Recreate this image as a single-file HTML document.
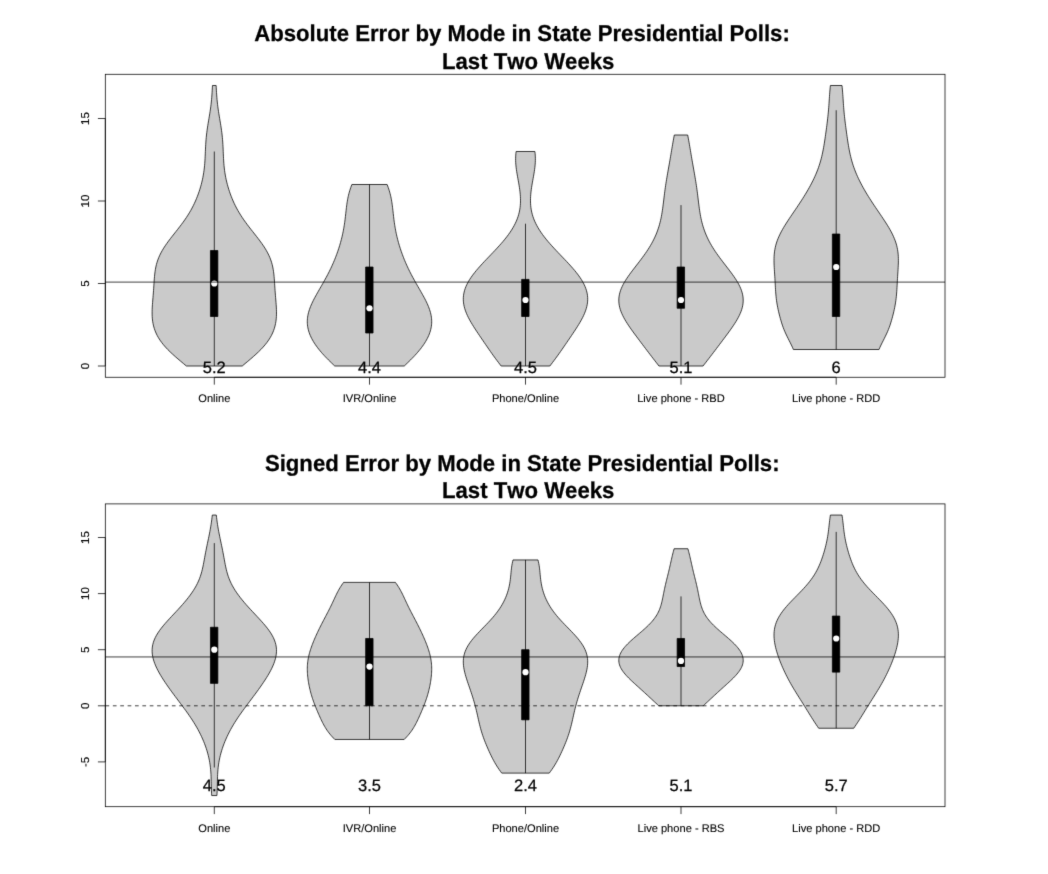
<!DOCTYPE html>
<html lang="en"><head><meta charset="utf-8"><title>Error by Mode in State Presidential Polls</title>
<style>html,body{margin:0;padding:0;background:#fff}body{width:1048px;height:874px;overflow:hidden}svg{display:block}text{font-family:"Liberation Sans",Arial,Helvetica,sans-serif;fill:#000;stroke:#000;stroke-width:0.25px;stroke-linejoin:round;font-kerning:none;text-rendering:geometricPrecision}.a{stroke-width:0.1px}.t{font-weight:bold}</style></head><body>
<svg width="1048" height="874" viewBox="0 0 1048 874">
<defs><filter id="soft" x="0" y="0" width="1048" height="874" filterUnits="userSpaceOnUse" color-interpolation-filters="sRGB"><feConvolveMatrix order="3" kernelMatrix="0.0100 0.0800 0.0100 0.0800 0.6400 0.0800 0.0100 0.0800 0.0100" divisor="1" edgeMode="duplicate" preserveAlpha="true"/></filter></defs>
<g filter="url(#soft)">
<rect width="1048" height="874" fill="#fff"/>
<text class="t" transform="translate(522 40.7) scale(1 1.035)" font-size="22.16" text-anchor="middle">Absolute Error by Mode in State Presidential Polls:</text>
<text class="t" transform="translate(528.2 68.5) scale(1 1.035)" font-size="22.16" text-anchor="middle">Last Two Weeks</text>
<path d="M242.23 366 L245.04 363.64 L247.86 361.29 L250.64 358.93 L253.36 356.57 L255.98 354.21 L258.49 351.86 L260.86 349.5 L263.07 347.14 L265.11 344.79 L266.97 342.43 L268.65 340.07 L270.15 337.71 L271.46 335.36 L272.6 333 L273.57 330.64 L274.38 328.29 L275.04 325.93 L275.56 323.57 L275.96 321.21 L276.23 318.86 L276.41 316.5 L276.49 314.14 L276.49 311.79 L276.43 309.43 L276.33 307.07 L276.18 304.71 L276 302.36 L275.82 300 L275.62 297.64 L275.43 295.29 L275.25 292.93 L275.07 290.57 L274.91 288.21 L274.76 285.86 L274.61 283.5 L274.46 281.14 L274.29 278.79 L274.09 276.43 L273.86 274.07 L273.56 271.71 L273.2 269.36 L272.75 267 L272.21 264.64 L271.55 262.29 L270.77 259.93 L269.86 257.57 L268.82 255.21 L267.65 252.86 L266.36 250.5 L264.94 248.14 L263.41 245.79 L261.78 243.43 L260.06 241.07 L258.29 238.71 L256.46 236.36 L254.6 234 L252.74 231.64 L250.88 229.29 L249.04 226.93 L247.25 224.57 L245.5 222.21 L243.82 219.86 L242.22 217.5 L240.68 215.14 L239.23 212.79 L237.85 210.43 L236.56 208.07 L235.34 205.71 L234.2 203.36 L233.13 201 L232.13 198.64 L231.19 196.29 L230.31 193.93 L229.49 191.57 L228.72 189.21 L228.02 186.86 L227.36 184.5 L226.76 182.14 L226.21 179.79 L225.72 177.43 L225.29 175.07 L224.9 172.71 L224.57 170.36 L224.28 168 L224.04 165.64 L223.84 163.29 L223.68 160.93 L223.54 158.57 L223.43 156.21 L223.32 153.86 L223.23 151.5 L223.13 149.14 L223.02 146.79 L222.89 144.43 L222.74 142.07 L222.56 139.71 L222.35 137.36 L222.11 135 L221.83 132.64 L221.52 130.29 L221.18 127.93 L220.82 125.57 L220.44 123.21 L220.04 120.86 L219.65 118.5 L219.25 116.14 L218.87 113.79 L218.5 111.43 L218.16 109.07 L217.84 106.71 L217.55 104.36 L217.29 102 L217.06 99.64 L216.86 97.29 L216.69 94.93 L216.53 92.57 L216.39 90.21 L216.26 87.86 L216.13 85.5 L212.47 85.5 L212.34 87.86 L212.21 90.21 L212.07 92.57 L211.91 94.93 L211.74 97.29 L211.54 99.64 L211.31 102 L211.05 104.36 L210.76 106.71 L210.44 109.07 L210.1 111.43 L209.73 113.79 L209.35 116.14 L208.95 118.5 L208.56 120.86 L208.16 123.21 L207.78 125.57 L207.42 127.93 L207.08 130.29 L206.77 132.64 L206.49 135 L206.25 137.36 L206.04 139.71 L205.86 142.07 L205.71 144.43 L205.58 146.79 L205.47 149.14 L205.37 151.5 L205.28 153.86 L205.17 156.21 L205.06 158.57 L204.92 160.93 L204.76 163.29 L204.56 165.64 L204.32 168 L204.03 170.36 L203.7 172.71 L203.31 175.07 L202.88 177.43 L202.39 179.79 L201.84 182.14 L201.24 184.5 L200.58 186.86 L199.88 189.21 L199.11 191.57 L198.29 193.93 L197.41 196.29 L196.47 198.64 L195.47 201 L194.4 203.36 L193.26 205.71 L192.04 208.07 L190.75 210.43 L189.37 212.79 L187.92 215.14 L186.38 217.5 L184.78 219.86 L183.1 222.21 L181.35 224.57 L179.56 226.93 L177.72 229.29 L175.86 231.64 L174 234 L172.14 236.36 L170.31 238.71 L168.54 241.07 L166.82 243.43 L165.19 245.79 L163.66 248.14 L162.24 250.5 L160.95 252.86 L159.78 255.21 L158.74 257.57 L157.83 259.93 L157.05 262.29 L156.39 264.64 L155.85 267 L155.4 269.36 L155.04 271.71 L154.74 274.07 L154.51 276.43 L154.31 278.79 L154.14 281.14 L153.99 283.5 L153.84 285.86 L153.69 288.21 L153.53 290.57 L153.35 292.93 L153.17 295.29 L152.98 297.64 L152.78 300 L152.6 302.36 L152.42 304.71 L152.27 307.07 L152.17 309.43 L152.11 311.79 L152.11 314.14 L152.19 316.5 L152.37 318.86 L152.64 321.21 L153.04 323.57 L153.56 325.93 L154.22 328.29 L155.03 330.64 L156 333 L157.14 335.36 L158.45 337.71 L159.95 340.07 L161.63 342.43 L163.49 344.79 L165.53 347.14 L167.74 349.5 L170.11 351.86 L172.62 354.21 L175.24 356.57 L177.96 358.93 L180.74 361.29 L183.56 363.64 L186.37 366Z" fill="#cacaca" stroke="#000" stroke-width="0.75" stroke-linejoin="round"/>
<line x1="214.3" x2="214.3" y1="151.5" y2="366" stroke="#000" stroke-width="0.75"/>
<rect x="210.45" y="250.5" width="7.4" height="66" fill="#000" stroke="#000" stroke-width="0.75" stroke-linejoin="round"/>
<circle cx="214.3" cy="283.5" r="3.1" fill="#fff"/>
<path d="M404.24 366 L405.86 364.47 L407.45 362.95 L409.02 361.42 L410.57 359.9 L412.07 358.37 L413.55 356.85 L414.98 355.32 L416.36 353.8 L417.7 352.27 L418.99 350.75 L420.23 349.22 L421.41 347.7 L422.54 346.17 L423.61 344.65 L424.62 343.12 L425.57 341.6 L426.45 340.07 L427.27 338.55 L428.02 337.02 L428.71 335.5 L429.33 333.97 L429.88 332.45 L430.36 330.92 L430.76 329.39 L431.1 327.87 L431.36 326.34 L431.54 324.82 L431.66 323.29 L431.7 321.77 L431.67 320.24 L431.57 318.72 L431.4 317.19 L431.16 315.67 L430.85 314.14 L430.49 312.62 L430.06 311.09 L429.57 309.57 L429.03 308.04 L428.44 306.52 L427.81 304.99 L427.13 303.47 L426.41 301.94 L425.66 300.42 L424.88 298.89 L424.07 297.37 L423.24 295.84 L422.39 294.32 L421.53 292.79 L420.66 291.26 L419.79 289.74 L418.91 288.21 L418.02 286.69 L417.15 285.16 L416.27 283.64 L415.41 282.11 L414.55 280.59 L413.71 279.06 L412.88 277.54 L412.06 276.01 L411.26 274.49 L410.47 272.96 L409.7 271.44 L408.95 269.91 L408.21 268.39 L407.5 266.86 L406.8 265.34 L406.12 263.81 L405.46 262.29 L404.81 260.76 L404.18 259.24 L403.58 257.71 L402.99 256.18 L402.41 254.66 L401.86 253.13 L401.32 251.61 L400.8 250.08 L400.29 248.56 L399.81 247.03 L399.34 245.51 L398.89 243.98 L398.45 242.46 L398.04 240.93 L397.63 239.41 L397.25 237.88 L396.89 236.36 L396.54 234.83 L396.21 233.31 L395.89 231.78 L395.6 230.26 L395.32 228.73 L395.05 227.21 L394.8 225.68 L394.57 224.16 L394.35 222.63 L394.14 221.11 L393.94 219.58 L393.76 218.05 L393.58 216.53 L393.41 215 L393.24 213.48 L393.07 211.95 L392.9 210.43 L392.73 208.9 L392.55 207.38 L392.36 205.85 L392.16 204.33 L391.94 202.8 L391.7 201.28 L391.44 199.75 L391.15 198.23 L390.83 196.7 L390.49 195.18 L390.11 193.65 L389.7 192.13 L389.25 190.6 L388.77 189.08 L388.25 187.55 L387.7 186.03 L387.12 184.5 L351.88 184.5 L351.3 186.03 L350.75 187.55 L350.23 189.08 L349.75 190.6 L349.3 192.13 L348.89 193.65 L348.51 195.18 L348.17 196.7 L347.85 198.23 L347.56 199.75 L347.3 201.28 L347.06 202.8 L346.84 204.33 L346.64 205.85 L346.45 207.38 L346.27 208.9 L346.1 210.43 L345.93 211.95 L345.76 213.48 L345.59 215 L345.42 216.53 L345.24 218.05 L345.06 219.58 L344.86 221.11 L344.65 222.63 L344.43 224.16 L344.2 225.68 L343.95 227.21 L343.68 228.73 L343.4 230.26 L343.11 231.78 L342.79 233.31 L342.46 234.83 L342.11 236.36 L341.75 237.88 L341.37 239.41 L340.96 240.93 L340.55 242.46 L340.11 243.98 L339.66 245.51 L339.19 247.03 L338.71 248.56 L338.2 250.08 L337.68 251.61 L337.14 253.13 L336.59 254.66 L336.01 256.18 L335.42 257.71 L334.82 259.24 L334.19 260.76 L333.54 262.29 L332.88 263.81 L332.2 265.34 L331.5 266.86 L330.79 268.39 L330.05 269.91 L329.3 271.44 L328.53 272.96 L327.74 274.49 L326.94 276.01 L326.12 277.54 L325.29 279.06 L324.45 280.59 L323.59 282.11 L322.73 283.64 L321.85 285.16 L320.98 286.69 L320.09 288.21 L319.21 289.74 L318.34 291.26 L317.47 292.79 L316.61 294.32 L315.76 295.84 L314.93 297.37 L314.12 298.89 L313.34 300.42 L312.59 301.94 L311.87 303.47 L311.19 304.99 L310.56 306.52 L309.97 308.04 L309.43 309.57 L308.94 311.09 L308.51 312.62 L308.15 314.14 L307.84 315.67 L307.6 317.19 L307.43 318.72 L307.33 320.24 L307.3 321.77 L307.34 323.29 L307.46 324.82 L307.64 326.34 L307.9 327.87 L308.24 329.39 L308.64 330.92 L309.12 332.45 L309.67 333.97 L310.29 335.5 L310.98 337.02 L311.73 338.55 L312.55 340.07 L313.43 341.6 L314.38 343.12 L315.39 344.65 L316.46 346.17 L317.59 347.7 L318.77 349.22 L320.01 350.75 L321.3 352.27 L322.64 353.8 L324.02 355.32 L325.45 356.85 L326.93 358.37 L328.43 359.9 L329.98 361.42 L331.55 362.95 L333.14 364.47 L334.76 366Z" fill="#cacaca" stroke="#000" stroke-width="0.75" stroke-linejoin="round"/>
<line x1="369.5" x2="369.5" y1="184.5" y2="366" stroke="#000" stroke-width="0.75"/>
<rect x="365.65" y="267" width="7.4" height="66" fill="#000" stroke="#000" stroke-width="0.75" stroke-linejoin="round"/>
<circle cx="369.5" cy="308.25" r="3.1" fill="#fff"/>
<path d="M549.85 366 L551.24 364.2 L552.62 362.39 L553.98 360.59 L555.32 358.79 L556.64 356.99 L557.94 355.18 L559.23 353.38 L560.5 351.58 L561.76 349.78 L563.01 347.97 L564.25 346.17 L565.49 344.37 L566.72 342.57 L567.95 340.76 L569.18 338.96 L570.41 337.16 L571.63 335.36 L572.84 333.55 L574.05 331.75 L575.24 329.95 L576.41 328.15 L577.56 326.34 L578.67 324.54 L579.75 322.74 L580.79 320.94 L581.78 319.13 L582.72 317.33 L583.59 315.53 L584.39 313.73 L585.12 311.92 L585.77 310.12 L586.33 308.32 L586.8 306.52 L587.18 304.71 L587.46 302.91 L587.63 301.11 L587.7 299.31 L587.66 297.5 L587.51 295.7 L587.25 293.9 L586.88 292.1 L586.4 290.29 L585.81 288.49 L585.12 286.69 L584.31 284.89 L583.41 283.08 L582.41 281.28 L581.32 279.48 L580.14 277.68 L578.87 275.87 L577.53 274.07 L576.12 272.27 L574.65 270.47 L573.12 268.66 L571.54 266.86 L569.92 265.06 L568.26 263.26 L566.58 261.45 L564.87 259.65 L563.15 257.85 L561.42 256.05 L559.69 254.24 L557.97 252.44 L556.27 250.64 L554.58 248.84 L552.92 247.03 L551.29 245.23 L549.69 243.43 L548.14 241.63 L546.63 239.82 L545.18 238.02 L543.78 236.22 L542.44 234.42 L541.16 232.61 L539.95 230.81 L538.81 229.01 L537.74 227.21 L536.74 225.4 L535.82 223.6 L534.97 221.8 L534.2 220 L533.51 218.19 L532.89 216.39 L532.35 214.59 L531.88 212.79 L531.48 210.98 L531.16 209.18 L530.9 207.38 L530.71 205.58 L530.58 203.77 L530.5 201.97 L530.49 200.17 L530.52 198.37 L530.6 196.56 L530.72 194.76 L530.89 192.96 L531.09 191.16 L531.32 189.35 L531.57 187.55 L531.85 185.75 L532.15 183.95 L532.46 182.14 L532.79 180.34 L533.11 178.54 L533.43 176.74 L533.75 174.93 L534.05 173.13 L534.34 171.33 L534.6 169.53 L534.83 167.72 L535.03 165.92 L535.19 164.12 L535.31 162.32 L535.37 160.51 L535.38 158.71 L535.34 156.91 L535.25 155.11 L535.1 153.3 L534.89 151.5 L516.11 151.5 L515.9 153.3 L515.75 155.11 L515.66 156.91 L515.62 158.71 L515.63 160.51 L515.69 162.32 L515.81 164.12 L515.97 165.92 L516.17 167.72 L516.4 169.53 L516.66 171.33 L516.95 173.13 L517.25 174.93 L517.57 176.74 L517.89 178.54 L518.21 180.34 L518.54 182.14 L518.85 183.95 L519.15 185.75 L519.43 187.55 L519.68 189.35 L519.91 191.16 L520.11 192.96 L520.28 194.76 L520.4 196.56 L520.48 198.37 L520.51 200.17 L520.5 201.97 L520.42 203.77 L520.29 205.58 L520.1 207.38 L519.84 209.18 L519.52 210.98 L519.12 212.79 L518.65 214.59 L518.11 216.39 L517.49 218.19 L516.8 220 L516.03 221.8 L515.18 223.6 L514.26 225.4 L513.26 227.21 L512.19 229.01 L511.05 230.81 L509.84 232.61 L508.56 234.42 L507.22 236.22 L505.82 238.02 L504.37 239.82 L502.86 241.63 L501.31 243.43 L499.71 245.23 L498.08 247.03 L496.42 248.84 L494.73 250.64 L493.03 252.44 L491.31 254.24 L489.58 256.05 L487.85 257.85 L486.13 259.65 L484.42 261.45 L482.74 263.26 L481.08 265.06 L479.46 266.86 L477.88 268.66 L476.35 270.47 L474.88 272.27 L473.47 274.07 L472.13 275.87 L470.86 277.68 L469.68 279.48 L468.59 281.28 L467.59 283.08 L466.69 284.89 L465.88 286.69 L465.19 288.49 L464.6 290.29 L464.12 292.1 L463.75 293.9 L463.49 295.7 L463.34 297.5 L463.3 299.31 L463.37 301.11 L463.54 302.91 L463.82 304.71 L464.2 306.52 L464.67 308.32 L465.23 310.12 L465.88 311.92 L466.61 313.73 L467.41 315.53 L468.28 317.33 L469.22 319.13 L470.21 320.94 L471.25 322.74 L472.33 324.54 L473.44 326.34 L474.59 328.15 L475.76 329.95 L476.95 331.75 L478.16 333.55 L479.37 335.36 L480.59 337.16 L481.82 338.96 L483.05 340.76 L484.28 342.57 L485.51 344.37 L486.75 346.17 L487.99 347.97 L489.24 349.78 L490.5 351.58 L491.77 353.38 L493.06 355.18 L494.36 356.99 L495.68 358.79 L497.02 360.59 L498.38 362.39 L499.76 364.2 L501.15 366Z" fill="#cacaca" stroke="#000" stroke-width="0.75" stroke-linejoin="round"/>
<line x1="525.5" x2="525.5" y1="223.69" y2="366" stroke="#000" stroke-width="0.75"/>
<rect x="521.65" y="279.38" width="7.4" height="37.12" fill="#000" stroke="#000" stroke-width="0.75" stroke-linejoin="round"/>
<circle cx="525.5" cy="300" r="3.1" fill="#fff"/>
<path d="M703.04 366 L704.54 364.06 L706.05 362.12 L707.55 360.18 L709.05 358.24 L710.55 356.29 L712.04 354.35 L713.52 352.41 L715 350.47 L716.47 348.53 L717.94 346.59 L719.4 344.65 L720.87 342.71 L722.33 340.76 L723.78 338.82 L725.23 336.88 L726.68 334.94 L728.11 333 L729.52 331.06 L730.91 329.12 L732.26 327.18 L733.58 325.24 L734.85 323.29 L736.07 321.35 L737.22 319.41 L738.29 317.47 L739.28 315.53 L740.17 313.59 L740.97 311.65 L741.65 309.71 L742.22 307.76 L742.66 305.82 L742.97 303.88 L743.15 301.94 L743.2 300 L743.11 298.06 L742.88 296.12 L742.52 294.18 L742.02 292.24 L741.4 290.29 L740.65 288.35 L739.79 286.41 L738.82 284.47 L737.75 282.53 L736.59 280.59 L735.35 278.65 L734.04 276.71 L732.67 274.76 L731.26 272.82 L729.8 270.88 L728.32 268.94 L726.82 267 L725.32 265.06 L723.82 263.12 L722.33 261.18 L720.86 259.24 L719.41 257.29 L718 255.35 L716.62 253.41 L715.29 251.47 L714.01 249.53 L712.78 247.59 L711.6 245.65 L710.48 243.71 L709.42 241.76 L708.41 239.82 L707.47 237.88 L706.58 235.94 L705.75 234 L704.98 232.06 L704.27 230.12 L703.61 228.18 L703 226.24 L702.44 224.29 L701.93 222.35 L701.46 220.41 L701.03 218.47 L700.64 216.53 L700.29 214.59 L699.96 212.65 L699.66 210.71 L699.37 208.76 L699.11 206.82 L698.86 204.88 L698.62 202.94 L698.38 201 L698.15 199.06 L697.92 197.12 L697.68 195.18 L697.44 193.24 L697.19 191.29 L696.93 189.35 L696.66 187.41 L696.38 185.47 L696.08 183.53 L695.78 181.59 L695.46 179.65 L695.14 177.71 L694.81 175.76 L694.47 173.82 L694.13 171.88 L693.79 169.94 L693.44 168 L693.1 166.06 L692.75 164.12 L692.41 162.18 L692.07 160.24 L691.74 158.29 L691.41 156.35 L691.08 154.41 L690.76 152.47 L690.44 150.53 L690.11 148.59 L689.78 146.65 L689.45 144.71 L689.12 142.76 L688.77 140.82 L688.42 138.88 L688.06 136.94 L687.69 135 L674.31 135 L673.94 136.94 L673.58 138.88 L673.23 140.82 L672.88 142.76 L672.55 144.71 L672.22 146.65 L671.89 148.59 L671.56 150.53 L671.24 152.47 L670.92 154.41 L670.59 156.35 L670.26 158.29 L669.93 160.24 L669.59 162.18 L669.25 164.12 L668.9 166.06 L668.56 168 L668.21 169.94 L667.87 171.88 L667.53 173.82 L667.19 175.76 L666.86 177.71 L666.54 179.65 L666.22 181.59 L665.92 183.53 L665.62 185.47 L665.34 187.41 L665.07 189.35 L664.81 191.29 L664.56 193.24 L664.32 195.18 L664.08 197.12 L663.85 199.06 L663.62 201 L663.38 202.94 L663.14 204.88 L662.89 206.82 L662.63 208.76 L662.34 210.71 L662.04 212.65 L661.71 214.59 L661.36 216.53 L660.97 218.47 L660.54 220.41 L660.07 222.35 L659.56 224.29 L659 226.24 L658.39 228.18 L657.73 230.12 L657.02 232.06 L656.25 234 L655.42 235.94 L654.53 237.88 L653.59 239.82 L652.58 241.76 L651.52 243.71 L650.4 245.65 L649.22 247.59 L647.99 249.53 L646.71 251.47 L645.38 253.41 L644 255.35 L642.59 257.29 L641.14 259.24 L639.67 261.18 L638.18 263.12 L636.68 265.06 L635.18 267 L633.68 268.94 L632.2 270.88 L630.74 272.82 L629.33 274.76 L627.96 276.71 L626.65 278.65 L625.41 280.59 L624.25 282.53 L623.18 284.47 L622.21 286.41 L621.35 288.35 L620.6 290.29 L619.98 292.24 L619.48 294.18 L619.12 296.12 L618.89 298.06 L618.8 300 L618.85 301.94 L619.03 303.88 L619.34 305.82 L619.78 307.76 L620.35 309.71 L621.03 311.65 L621.83 313.59 L622.72 315.53 L623.71 317.47 L624.78 319.41 L625.93 321.35 L627.15 323.29 L628.42 325.24 L629.74 327.18 L631.09 329.12 L632.48 331.06 L633.89 333 L635.32 334.94 L636.77 336.88 L638.22 338.82 L639.67 340.76 L641.13 342.71 L642.6 344.65 L644.06 346.59 L645.53 348.53 L647 350.47 L648.48 352.41 L649.96 354.35 L651.45 356.29 L652.95 358.24 L654.45 360.18 L655.95 362.12 L657.46 364.06 L658.96 366Z" fill="#cacaca" stroke="#000" stroke-width="0.75" stroke-linejoin="round"/>
<line x1="681" x2="681" y1="205.12" y2="366" stroke="#000" stroke-width="0.75"/>
<rect x="677.15" y="267" width="7.4" height="41.25" fill="#000" stroke="#000" stroke-width="0.75" stroke-linejoin="round"/>
<circle cx="681" cy="300" r="3.1" fill="#fff"/>
<path d="M879.01 349.5 L879.96 347.28 L881.01 345.06 L882.1 342.84 L883.22 340.63 L884.33 338.41 L885.42 336.19 L886.48 333.97 L887.49 331.75 L888.42 329.53 L889.27 327.32 L890.05 325.1 L890.76 322.88 L891.43 320.66 L892.07 318.44 L892.67 316.22 L893.23 314 L893.77 311.79 L894.26 309.57 L894.72 307.35 L895.14 305.13 L895.51 302.91 L895.84 300.69 L896.12 298.47 L896.36 296.26 L896.56 294.04 L896.73 291.82 L896.88 289.6 L897.01 287.38 L897.13 285.16 L897.24 282.95 L897.37 280.73 L897.49 278.51 L897.63 276.29 L897.76 274.07 L897.91 271.85 L898.05 269.63 L898.17 267.42 L898.28 265.2 L898.36 262.98 L898.4 260.76 L898.38 258.54 L898.3 256.32 L898.15 254.11 L897.91 251.89 L897.57 249.67 L897.14 247.45 L896.61 245.23 L895.97 243.01 L895.22 240.79 L894.37 238.58 L893.42 236.36 L892.38 234.14 L891.25 231.92 L890.04 229.7 L888.76 227.48 L887.41 225.26 L886.02 223.05 L884.58 220.83 L883.12 218.61 L881.63 216.39 L880.12 214.17 L878.61 211.95 L877.11 209.74 L875.6 207.52 L874.12 205.3 L872.64 203.08 L871.19 200.86 L869.77 198.64 L868.37 196.42 L867.01 194.21 L865.67 191.99 L864.38 189.77 L863.12 187.55 L861.91 185.33 L860.74 183.11 L859.61 180.89 L858.53 178.68 L857.51 176.46 L856.53 174.24 L855.61 172.02 L854.74 169.8 L853.93 167.58 L853.17 165.37 L852.47 163.15 L851.81 160.93 L851.21 158.71 L850.66 156.49 L850.14 154.27 L849.67 152.05 L849.23 149.84 L848.82 147.62 L848.44 145.4 L848.07 143.18 L847.73 140.96 L847.4 138.74 L847.08 136.53 L846.76 134.31 L846.46 132.09 L846.15 129.87 L845.86 127.65 L845.57 125.43 L845.29 123.21 L845.01 121 L844.76 118.78 L844.51 116.56 L844.28 114.34 L844.07 112.12 L843.87 109.9 L843.69 107.68 L843.53 105.47 L843.37 103.25 L843.23 101.03 L843.08 98.81 L842.94 96.59 L842.78 94.37 L842.62 92.16 L842.43 89.94 L842.23 87.72 L842 85.5 L830.4 85.5 L830.17 87.72 L829.97 89.94 L829.78 92.16 L829.62 94.37 L829.46 96.59 L829.32 98.81 L829.17 101.03 L829.03 103.25 L828.87 105.47 L828.71 107.68 L828.53 109.9 L828.33 112.12 L828.12 114.34 L827.89 116.56 L827.64 118.78 L827.39 121 L827.11 123.21 L826.83 125.43 L826.54 127.65 L826.25 129.87 L825.94 132.09 L825.64 134.31 L825.32 136.53 L825 138.74 L824.67 140.96 L824.33 143.18 L823.96 145.4 L823.58 147.62 L823.17 149.84 L822.73 152.05 L822.26 154.27 L821.74 156.49 L821.19 158.71 L820.59 160.93 L819.93 163.15 L819.23 165.37 L818.47 167.58 L817.66 169.8 L816.79 172.02 L815.87 174.24 L814.89 176.46 L813.87 178.68 L812.79 180.89 L811.66 183.11 L810.49 185.33 L809.28 187.55 L808.02 189.77 L806.73 191.99 L805.39 194.21 L804.03 196.42 L802.63 198.64 L801.21 200.86 L799.76 203.08 L798.28 205.3 L796.8 207.52 L795.29 209.74 L793.79 211.95 L792.28 214.17 L790.77 216.39 L789.28 218.61 L787.82 220.83 L786.38 223.05 L784.99 225.26 L783.64 227.48 L782.36 229.7 L781.15 231.92 L780.02 234.14 L778.98 236.36 L778.03 238.58 L777.18 240.79 L776.43 243.01 L775.79 245.23 L775.26 247.45 L774.83 249.67 L774.49 251.89 L774.25 254.11 L774.1 256.32 L774.02 258.54 L774 260.76 L774.04 262.98 L774.12 265.2 L774.23 267.42 L774.35 269.63 L774.49 271.85 L774.64 274.07 L774.77 276.29 L774.91 278.51 L775.03 280.73 L775.16 282.95 L775.27 285.16 L775.39 287.38 L775.52 289.6 L775.67 291.82 L775.84 294.04 L776.04 296.26 L776.28 298.47 L776.56 300.69 L776.89 302.91 L777.26 305.13 L777.68 307.35 L778.14 309.57 L778.63 311.79 L779.17 314 L779.73 316.22 L780.33 318.44 L780.97 320.66 L781.64 322.88 L782.35 325.1 L783.13 327.32 L783.98 329.53 L784.91 331.75 L785.92 333.97 L786.98 336.19 L788.07 338.41 L789.18 340.63 L790.3 342.84 L791.39 345.06 L792.44 347.28 L793.39 349.5Z" fill="#cacaca" stroke="#000" stroke-width="0.75" stroke-linejoin="round"/>
<line x1="836.2" x2="836.2" y1="110.25" y2="349.5" stroke="#000" stroke-width="0.75"/>
<rect x="832.35" y="234" width="7.4" height="82.5" fill="#000" stroke="#000" stroke-width="0.75" stroke-linejoin="round"/>
<circle cx="836.2" cy="267" r="3.1" fill="#fff"/>
<rect x="105.3" y="74.28" width="839.7" height="302.97" fill="none" stroke="#000" stroke-width="0.75"/>
<path d="M214.3 377.25 H836.2" stroke="#000" stroke-width="0.75" fill="none"/>
<line x1="214.3" x2="214.3" y1="377.25" y2="384.65" stroke="#000" stroke-width="0.75"/>
<text class="a" x="214.3" y="402.25" font-size="11.1" text-anchor="middle">Online</text>
<line x1="369.5" x2="369.5" y1="377.25" y2="384.65" stroke="#000" stroke-width="0.75"/>
<text class="a" x="369.5" y="402.25" font-size="11.1" text-anchor="middle">IVR/Online</text>
<line x1="525.5" x2="525.5" y1="377.25" y2="384.65" stroke="#000" stroke-width="0.75"/>
<text class="a" x="525.5" y="402.25" font-size="11.1" text-anchor="middle">Phone/Online</text>
<line x1="681" x2="681" y1="377.25" y2="384.65" stroke="#000" stroke-width="0.75"/>
<text class="a" x="681" y="402.25" font-size="11.1" text-anchor="middle">Live phone - RBD</text>
<line x1="836.2" x2="836.2" y1="377.25" y2="384.65" stroke="#000" stroke-width="0.75"/>
<text class="a" x="836.2" y="402.25" font-size="11.1" text-anchor="middle">Live phone - RDD</text>
<line x1="105.3" x2="105.3" y1="366" y2="118.5" stroke="#000" stroke-width="0.75"/>
<line x1="97.9" x2="105.3" y1="366" y2="366" stroke="#000" stroke-width="0.75"/>
<text class="a" transform="translate(89.3 366) rotate(-90)" font-size="11.5" text-anchor="middle">0</text>
<line x1="97.9" x2="105.3" y1="283.5" y2="283.5" stroke="#000" stroke-width="0.75"/>
<text class="a" transform="translate(89.3 283.5) rotate(-90)" font-size="11.5" text-anchor="middle">5</text>
<line x1="97.9" x2="105.3" y1="201" y2="201" stroke="#000" stroke-width="0.75"/>
<text class="a" transform="translate(89.3 201) rotate(-90)" font-size="11.5" text-anchor="middle">10</text>
<line x1="97.9" x2="105.3" y1="118.5" y2="118.5" stroke="#000" stroke-width="0.75"/>
<text class="a" transform="translate(89.3 118.5) rotate(-90)" font-size="11.5" text-anchor="middle">15</text>
<line x1="105.3" x2="945" y1="282.1" y2="282.1" stroke="#000" stroke-width="0.75"/>
<text x="214.3" y="372.8" font-size="16.5" text-anchor="middle">5.2</text>
<text x="369.5" y="372.8" font-size="16.5" text-anchor="middle">4.4</text>
<text x="525.5" y="372.8" font-size="16.5" text-anchor="middle">4.5</text>
<text x="681" y="372.8" font-size="16.5" text-anchor="middle">5.1</text>
<text x="836.2" y="372.8" font-size="16.5" text-anchor="middle">6</text>
<text class="t" transform="translate(522.2 470.5) scale(1 1.035)" font-size="22.16" text-anchor="middle">Signed Error by Mode in State Presidential Polls:</text>
<text class="t" transform="translate(528.2 498.2) scale(1 1.035)" font-size="22.16" text-anchor="middle">Last Two Weeks</text>
<path d="M216.91 795.56 L217.05 793.2 L217.16 790.85 L217.25 788.49 L217.31 786.13 L217.36 783.77 L217.41 781.42 L217.46 779.06 L217.53 776.7 L217.63 774.35 L217.77 771.99 L217.96 769.63 L218.2 767.27 L218.49 764.92 L218.85 762.56 L219.27 760.2 L219.76 757.85 L220.31 755.49 L220.93 753.13 L221.61 750.77 L222.36 748.42 L223.17 746.06 L224.05 743.7 L224.98 741.35 L225.99 738.99 L227.05 736.63 L228.18 734.27 L229.37 731.92 L230.62 729.56 L231.94 727.2 L233.32 724.85 L234.76 722.49 L236.27 720.13 L237.82 717.77 L239.43 715.42 L241.08 713.06 L242.78 710.7 L244.5 708.35 L246.25 705.99 L248.01 703.63 L249.78 701.27 L251.55 698.92 L253.32 696.56 L255.07 694.2 L256.81 691.85 L258.52 689.49 L260.2 687.13 L261.84 684.77 L263.45 682.42 L265.01 680.06 L266.51 677.7 L267.95 675.35 L269.32 672.99 L270.6 670.63 L271.8 668.27 L272.88 665.92 L273.85 663.56 L274.69 661.2 L275.38 658.85 L275.92 656.49 L276.29 654.13 L276.48 651.77 L276.47 649.42 L276.27 647.06 L275.86 644.7 L275.23 642.35 L274.4 639.99 L273.36 637.63 L272.12 635.27 L270.69 632.92 L269.09 630.56 L267.33 628.2 L265.44 625.85 L263.44 623.49 L261.35 621.13 L259.2 618.77 L257.01 616.42 L254.8 614.06 L252.6 611.7 L250.41 609.35 L248.26 606.99 L246.15 604.63 L244.11 602.27 L242.15 599.92 L240.27 597.56 L238.48 595.2 L236.79 592.85 L235.21 590.49 L233.75 588.13 L232.41 585.77 L231.19 583.42 L230.1 581.06 L229.13 578.7 L228.26 576.35 L227.51 573.99 L226.84 571.63 L226.25 569.27 L225.72 566.92 L225.24 564.56 L224.79 562.2 L224.36 559.85 L223.93 557.49 L223.5 555.13 L223.06 552.77 L222.6 550.42 L222.13 548.06 L221.64 545.7 L221.15 543.35 L220.65 540.99 L220.15 538.63 L219.66 536.27 L219.19 533.92 L218.73 531.56 L218.31 529.2 L217.9 526.85 L217.53 524.49 L217.18 522.13 L216.86 519.77 L216.57 517.42 L216.29 515.06 L212.31 515.06 L212.03 517.42 L211.74 519.77 L211.42 522.13 L211.07 524.49 L210.7 526.85 L210.29 529.2 L209.87 531.56 L209.41 533.92 L208.94 536.27 L208.45 538.63 L207.95 540.99 L207.45 543.35 L206.96 545.7 L206.47 548.06 L206 550.42 L205.54 552.77 L205.1 555.13 L204.67 557.49 L204.24 559.85 L203.81 562.2 L203.36 564.56 L202.88 566.92 L202.35 569.27 L201.76 571.63 L201.09 573.99 L200.34 576.35 L199.47 578.7 L198.5 581.06 L197.41 583.42 L196.19 585.77 L194.85 588.13 L193.39 590.49 L191.81 592.85 L190.12 595.2 L188.33 597.56 L186.45 599.92 L184.49 602.27 L182.45 604.63 L180.34 606.99 L178.19 609.35 L176 611.7 L173.8 614.06 L171.59 616.42 L169.4 618.77 L167.25 621.13 L165.16 623.49 L163.16 625.85 L161.27 628.2 L159.51 630.56 L157.91 632.92 L156.48 635.27 L155.24 637.63 L154.2 639.99 L153.37 642.35 L152.74 644.7 L152.33 647.06 L152.13 649.42 L152.12 651.77 L152.31 654.13 L152.68 656.49 L153.22 658.85 L153.91 661.2 L154.75 663.56 L155.72 665.92 L156.8 668.27 L158 670.63 L159.28 672.99 L160.65 675.35 L162.09 677.7 L163.59 680.06 L165.15 682.42 L166.76 684.77 L168.4 687.13 L170.08 689.49 L171.79 691.85 L173.53 694.2 L175.28 696.56 L177.05 698.92 L178.82 701.27 L180.59 703.63 L182.35 705.99 L184.1 708.35 L185.82 710.7 L187.52 713.06 L189.17 715.42 L190.78 717.77 L192.33 720.13 L193.84 722.49 L195.28 724.85 L196.66 727.2 L197.98 729.56 L199.23 731.92 L200.42 734.27 L201.55 736.63 L202.61 738.99 L203.62 741.35 L204.55 743.7 L205.43 746.06 L206.24 748.42 L206.99 750.77 L207.67 753.13 L208.29 755.49 L208.84 757.85 L209.33 760.2 L209.75 762.56 L210.11 764.92 L210.4 767.27 L210.64 769.63 L210.83 771.99 L210.97 774.35 L211.07 776.7 L211.14 779.06 L211.19 781.42 L211.24 783.77 L211.29 786.13 L211.35 788.49 L211.44 790.85 L211.55 793.2 L211.69 795.56Z" fill="#cacaca" stroke="#000" stroke-width="0.75" stroke-linejoin="round"/>
<line x1="214.3" x2="214.3" y1="543.11" y2="767.51" stroke="#000" stroke-width="0.75"/>
<rect x="210.45" y="627.26" width="7.4" height="56.1" fill="#000" stroke="#000" stroke-width="0.75" stroke-linejoin="round"/>
<circle cx="214.3" cy="649.7" r="3.1" fill="#fff"/>
<path d="M404.16 739.46 L405.47 738.14 L406.71 736.82 L407.89 735.5 L409.01 734.18 L410.06 732.86 L411.05 731.54 L411.98 730.22 L412.85 728.9 L413.67 727.58 L414.45 726.26 L415.19 724.94 L415.9 723.62 L416.57 722.3 L417.23 720.98 L417.86 719.66 L418.48 718.34 L419.08 717.02 L419.67 715.7 L420.25 714.38 L420.83 713.06 L421.4 711.74 L421.96 710.42 L422.51 709.1 L423.05 707.78 L423.58 706.46 L424.1 705.14 L424.61 703.82 L425.1 702.5 L425.58 701.18 L426.04 699.86 L426.48 698.54 L426.91 697.22 L427.32 695.9 L427.71 694.58 L428.08 693.26 L428.44 691.94 L428.77 690.62 L429.09 689.3 L429.39 687.98 L429.68 686.66 L429.94 685.34 L430.2 684.02 L430.43 682.7 L430.65 681.38 L430.85 680.06 L431.03 678.74 L431.19 677.42 L431.33 676.1 L431.45 674.78 L431.55 673.46 L431.62 672.14 L431.67 670.82 L431.7 669.5 L431.69 668.18 L431.66 666.86 L431.6 665.54 L431.51 664.22 L431.39 662.9 L431.24 661.58 L431.05 660.26 L430.84 658.94 L430.59 657.62 L430.32 656.3 L430.01 654.98 L429.68 653.66 L429.31 652.34 L428.93 651.02 L428.51 649.7 L428.08 648.38 L427.62 647.06 L427.15 645.74 L426.65 644.42 L426.14 643.1 L425.61 641.78 L425.07 640.46 L424.52 639.14 L423.95 637.82 L423.37 636.5 L422.78 635.18 L422.17 633.86 L421.56 632.54 L420.94 631.22 L420.31 629.9 L419.67 628.58 L419.01 627.26 L418.35 625.94 L417.68 624.62 L417.01 623.3 L416.32 621.98 L415.64 620.66 L414.94 619.34 L414.25 618.02 L413.55 616.7 L412.85 615.38 L412.16 614.06 L411.47 612.74 L410.79 611.42 L410.11 610.1 L409.44 608.78 L408.79 607.46 L408.14 606.14 L407.5 604.82 L406.88 603.5 L406.26 602.18 L405.64 600.86 L405.03 599.54 L404.42 598.22 L403.8 596.9 L403.18 595.58 L402.54 594.26 L401.88 592.94 L401.2 591.62 L400.49 590.3 L399.74 588.98 L398.96 587.66 L398.14 586.34 L397.27 585.02 L396.36 583.7 L395.41 582.38 L343.59 582.38 L342.64 583.7 L341.73 585.02 L340.86 586.34 L340.04 587.66 L339.26 588.98 L338.51 590.3 L337.8 591.62 L337.12 592.94 L336.46 594.26 L335.82 595.58 L335.2 596.9 L334.58 598.22 L333.97 599.54 L333.36 600.86 L332.74 602.18 L332.12 603.5 L331.5 604.82 L330.86 606.14 L330.21 607.46 L329.56 608.78 L328.89 610.1 L328.21 611.42 L327.53 612.74 L326.84 614.06 L326.15 615.38 L325.45 616.7 L324.75 618.02 L324.06 619.34 L323.36 620.66 L322.68 621.98 L321.99 623.3 L321.32 624.62 L320.65 625.94 L319.99 627.26 L319.33 628.58 L318.69 629.9 L318.06 631.22 L317.44 632.54 L316.83 633.86 L316.22 635.18 L315.63 636.5 L315.05 637.82 L314.48 639.14 L313.93 640.46 L313.39 641.78 L312.86 643.1 L312.35 644.42 L311.85 645.74 L311.38 647.06 L310.92 648.38 L310.49 649.7 L310.07 651.02 L309.69 652.34 L309.32 653.66 L308.99 654.98 L308.68 656.3 L308.41 657.62 L308.16 658.94 L307.95 660.26 L307.76 661.58 L307.61 662.9 L307.49 664.22 L307.4 665.54 L307.34 666.86 L307.31 668.18 L307.3 669.5 L307.33 670.82 L307.38 672.14 L307.45 673.46 L307.55 674.78 L307.67 676.1 L307.81 677.42 L307.97 678.74 L308.15 680.06 L308.35 681.38 L308.57 682.7 L308.8 684.02 L309.06 685.34 L309.32 686.66 L309.61 687.98 L309.91 689.3 L310.23 690.62 L310.56 691.94 L310.92 693.26 L311.29 694.58 L311.68 695.9 L312.09 697.22 L312.52 698.54 L312.96 699.86 L313.42 701.18 L313.9 702.5 L314.39 703.82 L314.9 705.14 L315.42 706.46 L315.95 707.78 L316.49 709.1 L317.04 710.42 L317.6 711.74 L318.17 713.06 L318.75 714.38 L319.33 715.7 L319.92 717.02 L320.52 718.34 L321.14 719.66 L321.77 720.98 L322.43 722.3 L323.1 723.62 L323.81 724.94 L324.55 726.26 L325.33 727.58 L326.15 728.9 L327.02 730.22 L327.95 731.54 L328.94 732.86 L329.99 734.18 L331.11 735.5 L332.29 736.82 L333.53 738.14 L334.84 739.46Z" fill="#cacaca" stroke="#000" stroke-width="0.75" stroke-linejoin="round"/>
<line x1="369.5" x2="369.5" y1="582.38" y2="739.46" stroke="#000" stroke-width="0.75"/>
<rect x="365.65" y="638.48" width="7.4" height="67.32" fill="#000" stroke="#000" stroke-width="0.75" stroke-linejoin="round"/>
<circle cx="369.5" cy="666.53" r="3.1" fill="#fff"/>
<path d="M549.23 773.12 L550.57 771.33 L551.85 769.54 L553.07 767.75 L554.22 765.95 L555.32 764.16 L556.36 762.37 L557.35 760.58 L558.3 758.79 L559.21 757 L560.08 755.21 L560.94 753.41 L561.77 751.62 L562.58 749.83 L563.37 748.04 L564.14 746.25 L564.89 744.46 L565.62 742.67 L566.33 740.87 L567.01 739.08 L567.66 737.29 L568.28 735.5 L568.87 733.71 L569.43 731.92 L569.95 730.13 L570.45 728.33 L570.92 726.54 L571.37 724.75 L571.8 722.96 L572.21 721.17 L572.62 719.38 L573.02 717.59 L573.42 715.79 L573.82 714 L574.23 712.21 L574.65 710.42 L575.09 708.63 L575.54 706.84 L576.01 705.05 L576.5 703.25 L577.01 701.46 L577.54 699.67 L578.09 697.88 L578.65 696.09 L579.23 694.3 L579.82 692.51 L580.43 690.71 L581.04 688.92 L581.65 687.13 L582.27 685.34 L582.88 683.55 L583.49 681.76 L584.07 679.97 L584.64 678.17 L585.19 676.38 L585.7 674.59 L586.17 672.8 L586.59 671.01 L586.96 669.22 L587.26 667.43 L587.49 665.63 L587.64 663.84 L587.7 662.05 L587.66 660.26 L587.52 658.47 L587.26 656.68 L586.89 654.89 L586.39 653.09 L585.77 651.3 L585.03 649.51 L584.15 647.72 L583.16 645.93 L582.04 644.14 L580.81 642.35 L579.48 640.55 L578.04 638.76 L576.52 636.97 L574.93 635.18 L573.28 633.39 L571.58 631.6 L569.85 629.81 L568.11 628.01 L566.36 626.22 L564.62 624.43 L562.91 622.64 L561.23 620.85 L559.6 619.06 L558.03 617.27 L556.51 615.47 L555.07 613.68 L553.7 611.89 L552.4 610.1 L551.17 608.31 L550.02 606.52 L548.95 604.73 L547.95 602.93 L547.02 601.14 L546.16 599.35 L545.37 597.56 L544.64 595.77 L543.98 593.98 L543.38 592.19 L542.83 590.39 L542.35 588.6 L541.92 586.81 L541.55 585.02 L541.22 583.23 L540.94 581.44 L540.7 579.65 L540.49 577.85 L540.31 576.06 L540.14 574.27 L539.97 572.48 L539.8 570.69 L539.6 568.9 L539.38 567.11 L539.11 565.31 L538.79 563.52 L538.42 561.73 L537.99 559.94 L513.01 559.94 L512.58 561.73 L512.21 563.52 L511.89 565.31 L511.62 567.11 L511.4 568.9 L511.2 570.69 L511.03 572.48 L510.86 574.27 L510.69 576.06 L510.51 577.85 L510.3 579.65 L510.06 581.44 L509.78 583.23 L509.45 585.02 L509.08 586.81 L508.65 588.6 L508.17 590.39 L507.62 592.19 L507.02 593.98 L506.36 595.77 L505.63 597.56 L504.84 599.35 L503.98 601.14 L503.05 602.93 L502.05 604.73 L500.98 606.52 L499.83 608.31 L498.6 610.1 L497.3 611.89 L495.93 613.68 L494.49 615.47 L492.97 617.27 L491.4 619.06 L489.77 620.85 L488.09 622.64 L486.38 624.43 L484.64 626.22 L482.89 628.01 L481.15 629.81 L479.42 631.6 L477.72 633.39 L476.07 635.18 L474.48 636.97 L472.96 638.76 L471.52 640.55 L470.19 642.35 L468.96 644.14 L467.84 645.93 L466.85 647.72 L465.97 649.51 L465.23 651.3 L464.61 653.09 L464.11 654.89 L463.74 656.68 L463.48 658.47 L463.34 660.26 L463.3 662.05 L463.36 663.84 L463.51 665.63 L463.74 667.43 L464.04 669.22 L464.41 671.01 L464.83 672.8 L465.3 674.59 L465.81 676.38 L466.36 678.17 L466.93 679.97 L467.51 681.76 L468.12 683.55 L468.73 685.34 L469.35 687.13 L469.96 688.92 L470.57 690.71 L471.18 692.51 L471.77 694.3 L472.35 696.09 L472.91 697.88 L473.46 699.67 L473.99 701.46 L474.5 703.25 L474.99 705.05 L475.46 706.84 L475.91 708.63 L476.35 710.42 L476.77 712.21 L477.18 714 L477.58 715.79 L477.98 717.59 L478.38 719.38 L478.79 721.17 L479.2 722.96 L479.63 724.75 L480.08 726.54 L480.55 728.33 L481.05 730.13 L481.57 731.92 L482.13 733.71 L482.72 735.5 L483.34 737.29 L483.99 739.08 L484.67 740.87 L485.38 742.67 L486.11 744.46 L486.86 746.25 L487.63 748.04 L488.42 749.83 L489.23 751.62 L490.06 753.41 L490.92 755.21 L491.79 757 L492.7 758.79 L493.65 760.58 L494.64 762.37 L495.68 764.16 L496.78 765.95 L497.93 767.75 L499.15 769.54 L500.43 771.33 L501.77 773.12Z" fill="#cacaca" stroke="#000" stroke-width="0.75" stroke-linejoin="round"/>
<line x1="525.5" x2="525.5" y1="559.94" y2="773.12" stroke="#000" stroke-width="0.75"/>
<rect x="521.65" y="649.7" width="7.4" height="70.12" fill="#000" stroke="#000" stroke-width="0.75" stroke-linejoin="round"/>
<circle cx="525.5" cy="672.14" r="3.1" fill="#fff"/>
<path d="M703.21 705.8 L704.65 704.48 L706.08 703.16 L707.51 701.84 L708.93 700.52 L710.35 699.2 L711.77 697.88 L713.19 696.56 L714.62 695.24 L716.05 693.92 L717.48 692.6 L718.93 691.28 L720.38 689.96 L721.84 688.64 L723.3 687.32 L724.77 686 L726.23 684.68 L727.68 683.36 L729.12 682.04 L730.53 680.72 L731.91 679.4 L733.25 678.08 L734.53 676.76 L735.76 675.44 L736.92 674.12 L738 672.8 L739 671.48 L739.9 670.16 L740.71 668.84 L741.41 667.52 L742 666.2 L742.48 664.88 L742.83 663.56 L743.07 662.24 L743.19 660.92 L743.18 659.6 L743.05 658.28 L742.8 656.96 L742.42 655.64 L741.93 654.32 L741.32 653 L740.6 651.68 L739.77 650.36 L738.84 649.04 L737.81 647.72 L736.69 646.4 L735.49 645.08 L734.22 643.76 L732.87 642.44 L731.47 641.12 L730.02 639.8 L728.53 638.48 L727.01 637.16 L725.47 635.84 L723.92 634.52 L722.36 633.2 L720.82 631.88 L719.3 630.56 L717.81 629.24 L716.35 627.92 L714.94 626.6 L713.57 625.28 L712.27 623.96 L711.03 622.64 L709.85 621.32 L708.75 620 L707.72 618.68 L706.76 617.36 L705.87 616.04 L705.06 614.72 L704.31 613.4 L703.63 612.08 L703.02 610.76 L702.46 609.44 L701.96 608.12 L701.5 606.8 L701.09 605.48 L700.72 604.16 L700.37 602.84 L700.06 601.52 L699.76 600.2 L699.48 598.88 L699.21 597.56 L698.95 596.24 L698.69 594.92 L698.43 593.6 L698.17 592.28 L697.9 590.96 L697.63 589.64 L697.35 588.32 L697.06 587 L696.76 585.68 L696.46 584.36 L696.15 583.04 L695.83 581.72 L695.51 580.4 L695.18 579.08 L694.85 577.76 L694.52 576.44 L694.19 575.12 L693.87 573.8 L693.54 572.48 L693.22 571.16 L692.91 569.84 L692.6 568.52 L692.3 567.2 L692 565.88 L691.7 564.56 L691.41 563.24 L691.12 561.92 L690.83 560.6 L690.53 559.28 L690.23 557.96 L689.92 556.64 L689.61 555.32 L689.28 554 L688.95 552.68 L688.6 551.36 L688.24 550.04 L687.86 548.72 L674.14 548.72 L673.76 550.04 L673.4 551.36 L673.05 552.68 L672.72 554 L672.39 555.32 L672.08 556.64 L671.77 557.96 L671.47 559.28 L671.17 560.6 L670.88 561.92 L670.59 563.24 L670.3 564.56 L670 565.88 L669.7 567.2 L669.4 568.52 L669.09 569.84 L668.78 571.16 L668.46 572.48 L668.13 573.8 L667.81 575.12 L667.48 576.44 L667.15 577.76 L666.82 579.08 L666.49 580.4 L666.17 581.72 L665.85 583.04 L665.54 584.36 L665.24 585.68 L664.94 587 L664.65 588.32 L664.37 589.64 L664.1 590.96 L663.83 592.28 L663.57 593.6 L663.31 594.92 L663.05 596.24 L662.79 597.56 L662.52 598.88 L662.24 600.2 L661.94 601.52 L661.63 602.84 L661.28 604.16 L660.91 605.48 L660.5 606.8 L660.04 608.12 L659.54 609.44 L658.98 610.76 L658.37 612.08 L657.69 613.4 L656.94 614.72 L656.13 616.04 L655.24 617.36 L654.28 618.68 L653.25 620 L652.15 621.32 L650.97 622.64 L649.73 623.96 L648.43 625.28 L647.06 626.6 L645.65 627.92 L644.19 629.24 L642.7 630.56 L641.18 631.88 L639.64 633.2 L638.08 634.52 L636.53 635.84 L634.99 637.16 L633.47 638.48 L631.98 639.8 L630.53 641.12 L629.13 642.44 L627.78 643.76 L626.51 645.08 L625.31 646.4 L624.19 647.72 L623.16 649.04 L622.23 650.36 L621.4 651.68 L620.68 653 L620.07 654.32 L619.58 655.64 L619.2 656.96 L618.95 658.28 L618.82 659.6 L618.81 660.92 L618.93 662.24 L619.17 663.56 L619.52 664.88 L620 666.2 L620.59 667.52 L621.29 668.84 L622.1 670.16 L623 671.48 L624 672.8 L625.08 674.12 L626.24 675.44 L627.47 676.76 L628.75 678.08 L630.09 679.4 L631.47 680.72 L632.88 682.04 L634.32 683.36 L635.77 684.68 L637.23 686 L638.7 687.32 L640.16 688.64 L641.62 689.96 L643.07 691.28 L644.52 692.6 L645.95 693.92 L647.38 695.24 L648.81 696.56 L650.23 697.88 L651.65 699.2 L653.07 700.52 L654.49 701.84 L655.92 703.16 L657.35 704.48 L658.79 705.8Z" fill="#cacaca" stroke="#000" stroke-width="0.75" stroke-linejoin="round"/>
<line x1="681" x2="681" y1="596.4" y2="705.8" stroke="#000" stroke-width="0.75"/>
<rect x="677.15" y="638.48" width="7.4" height="28.05" fill="#000" stroke="#000" stroke-width="0.75" stroke-linejoin="round"/>
<circle cx="681" cy="660.92" r="3.1" fill="#fff"/>
<path d="M853.72 728.24 L854.95 726.45 L856.17 724.66 L857.37 722.87 L858.54 721.07 L859.7 719.28 L860.83 717.49 L861.95 715.7 L863.05 713.91 L864.16 712.12 L865.26 710.33 L866.37 708.53 L867.48 706.74 L868.59 704.95 L869.72 703.16 L870.84 701.37 L871.98 699.58 L873.11 697.79 L874.24 695.99 L875.36 694.2 L876.47 692.41 L877.57 690.62 L878.66 688.83 L879.72 687.04 L880.76 685.25 L881.78 683.45 L882.78 681.66 L883.75 679.87 L884.69 678.08 L885.61 676.29 L886.51 674.5 L887.38 672.71 L888.22 670.91 L889.04 669.12 L889.84 667.33 L890.61 665.54 L891.35 663.75 L892.07 661.96 L892.76 660.17 L893.43 658.37 L894.07 656.58 L894.67 654.79 L895.24 653 L895.78 651.21 L896.28 649.42 L896.73 647.63 L897.14 645.83 L897.51 644.04 L897.81 642.25 L898.06 640.46 L898.24 638.67 L898.36 636.88 L898.4 635.09 L898.36 633.29 L898.24 631.5 L898.02 629.71 L897.71 627.92 L897.3 626.13 L896.79 624.34 L896.17 622.55 L895.44 620.75 L894.6 618.96 L893.65 617.17 L892.6 615.38 L891.43 613.59 L890.17 611.8 L888.82 610.01 L887.37 608.21 L885.85 606.42 L884.26 604.63 L882.6 602.84 L880.91 601.05 L879.17 599.26 L877.42 597.47 L875.66 595.67 L873.9 593.88 L872.15 592.09 L870.44 590.3 L868.77 588.51 L867.14 586.72 L865.58 584.93 L864.07 583.13 L862.64 581.34 L861.28 579.55 L860 577.76 L858.79 575.97 L857.66 574.18 L856.61 572.39 L855.62 570.59 L854.7 568.8 L853.84 567.01 L853.03 565.22 L852.28 563.43 L851.57 561.64 L850.9 559.85 L850.27 558.05 L849.66 556.26 L849.09 554.47 L848.54 552.68 L848.02 550.89 L847.52 549.1 L847.05 547.31 L846.6 545.51 L846.18 543.72 L845.78 541.93 L845.41 540.14 L845.07 538.35 L844.76 536.56 L844.47 534.77 L844.21 532.97 L843.98 531.18 L843.76 529.39 L843.55 527.6 L843.35 525.81 L843.16 524.02 L842.95 522.23 L842.74 520.43 L842.52 518.64 L842.27 516.85 L842 515.06 L830.4 515.06 L830.13 516.85 L829.88 518.64 L829.66 520.43 L829.45 522.23 L829.24 524.02 L829.05 525.81 L828.85 527.6 L828.64 529.39 L828.42 531.18 L828.19 532.97 L827.93 534.77 L827.64 536.56 L827.33 538.35 L826.99 540.14 L826.62 541.93 L826.22 543.72 L825.8 545.51 L825.35 547.31 L824.88 549.1 L824.38 550.89 L823.86 552.68 L823.31 554.47 L822.74 556.26 L822.13 558.05 L821.5 559.85 L820.83 561.64 L820.12 563.43 L819.37 565.22 L818.56 567.01 L817.7 568.8 L816.78 570.59 L815.79 572.39 L814.74 574.18 L813.61 575.97 L812.4 577.76 L811.12 579.55 L809.76 581.34 L808.33 583.13 L806.82 584.93 L805.26 586.72 L803.63 588.51 L801.96 590.3 L800.25 592.09 L798.5 593.88 L796.74 595.67 L794.98 597.47 L793.23 599.26 L791.49 601.05 L789.8 602.84 L788.14 604.63 L786.55 606.42 L785.03 608.21 L783.58 610.01 L782.23 611.8 L780.97 613.59 L779.8 615.38 L778.75 617.17 L777.8 618.96 L776.96 620.75 L776.23 622.55 L775.61 624.34 L775.1 626.13 L774.69 627.92 L774.38 629.71 L774.16 631.5 L774.04 633.29 L774 635.09 L774.04 636.88 L774.16 638.67 L774.34 640.46 L774.59 642.25 L774.89 644.04 L775.26 645.83 L775.67 647.63 L776.12 649.42 L776.62 651.21 L777.16 653 L777.73 654.79 L778.33 656.58 L778.97 658.37 L779.64 660.17 L780.33 661.96 L781.05 663.75 L781.79 665.54 L782.56 667.33 L783.36 669.12 L784.18 670.91 L785.02 672.71 L785.89 674.5 L786.79 676.29 L787.71 678.08 L788.65 679.87 L789.62 681.66 L790.62 683.45 L791.64 685.25 L792.68 687.04 L793.74 688.83 L794.83 690.62 L795.93 692.41 L797.04 694.2 L798.16 695.99 L799.29 697.79 L800.42 699.58 L801.56 701.37 L802.68 703.16 L803.81 704.95 L804.92 706.74 L806.03 708.53 L807.14 710.33 L808.24 712.12 L809.35 713.91 L810.45 715.7 L811.57 717.49 L812.7 719.28 L813.86 721.07 L815.03 722.87 L816.23 724.66 L817.45 726.45 L818.68 728.24Z" fill="#cacaca" stroke="#000" stroke-width="0.75" stroke-linejoin="round"/>
<line x1="836.2" x2="836.2" y1="531.89" y2="728.24" stroke="#000" stroke-width="0.75"/>
<rect x="832.35" y="616.04" width="7.4" height="56.1" fill="#000" stroke="#000" stroke-width="0.75" stroke-linejoin="round"/>
<circle cx="836.2" cy="638.48" r="3.1" fill="#fff"/>
<rect x="105.3" y="503.9" width="839.7" height="302.8" fill="none" stroke="#000" stroke-width="0.75"/>
<path d="M214.3 806.7 H836.2" stroke="#000" stroke-width="0.75" fill="none"/>
<line x1="214.3" x2="214.3" y1="806.7" y2="814.1" stroke="#000" stroke-width="0.75"/>
<text class="a" x="214.3" y="831.7" font-size="11.1" text-anchor="middle">Online</text>
<line x1="369.5" x2="369.5" y1="806.7" y2="814.1" stroke="#000" stroke-width="0.75"/>
<text class="a" x="369.5" y="831.7" font-size="11.1" text-anchor="middle">IVR/Online</text>
<line x1="525.5" x2="525.5" y1="806.7" y2="814.1" stroke="#000" stroke-width="0.75"/>
<text class="a" x="525.5" y="831.7" font-size="11.1" text-anchor="middle">Phone/Online</text>
<line x1="681" x2="681" y1="806.7" y2="814.1" stroke="#000" stroke-width="0.75"/>
<text class="a" x="681" y="831.7" font-size="11.1" text-anchor="middle">Live phone - RBS</text>
<line x1="836.2" x2="836.2" y1="806.7" y2="814.1" stroke="#000" stroke-width="0.75"/>
<text class="a" x="836.2" y="831.7" font-size="11.1" text-anchor="middle">Live phone - RDD</text>
<line x1="105.3" x2="105.3" y1="761.9" y2="537.5" stroke="#000" stroke-width="0.75"/>
<line x1="97.9" x2="105.3" y1="761.9" y2="761.9" stroke="#000" stroke-width="0.75"/>
<text class="a" transform="translate(89.3 761.9) rotate(-90)" font-size="11.5" text-anchor="middle">-5</text>
<line x1="97.9" x2="105.3" y1="705.8" y2="705.8" stroke="#000" stroke-width="0.75"/>
<text class="a" transform="translate(89.3 705.8) rotate(-90)" font-size="11.5" text-anchor="middle">0</text>
<line x1="97.9" x2="105.3" y1="649.7" y2="649.7" stroke="#000" stroke-width="0.75"/>
<text class="a" transform="translate(89.3 649.7) rotate(-90)" font-size="11.5" text-anchor="middle">5</text>
<line x1="97.9" x2="105.3" y1="593.6" y2="593.6" stroke="#000" stroke-width="0.75"/>
<text class="a" transform="translate(89.3 593.6) rotate(-90)" font-size="11.5" text-anchor="middle">10</text>
<line x1="97.9" x2="105.3" y1="537.5" y2="537.5" stroke="#000" stroke-width="0.75"/>
<text class="a" transform="translate(89.3 537.5) rotate(-90)" font-size="11.5" text-anchor="middle">15</text>
<line x1="105.3" x2="945" y1="656.95" y2="656.95" stroke="#000" stroke-width="0.75"/>
<line x1="105.5" x2="945" y1="705.8" y2="705.8" stroke="#000" stroke-width="0.75" stroke-dasharray="3.69 3.6845"/>
<text x="214.3" y="790.5" font-size="16.5" text-anchor="middle">4.5</text>
<text x="369.5" y="790.5" font-size="16.5" text-anchor="middle">3.5</text>
<text x="525.5" y="790.5" font-size="16.5" text-anchor="middle">2.4</text>
<text x="681" y="790.5" font-size="16.5" text-anchor="middle">5.1</text>
<text x="836.2" y="790.5" font-size="16.5" text-anchor="middle">5.7</text>
</g></svg></body></html>
